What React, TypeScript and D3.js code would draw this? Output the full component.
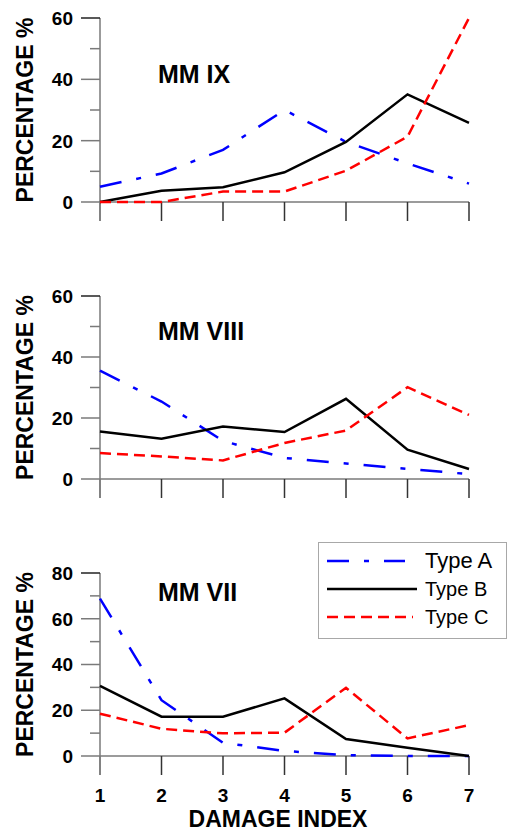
import React from 'react';
import * as d3 from 'd3';

const damageIndex = [1, 2, 3, 4, 5, 6, 7];

// MM IX
const mm9TypeA = [5, 9.3, 17, 30, 19.6, 12.6, 6];
const mm9TypeB = [0, 3.7, 4.8, 9.7, 19.6, 35.1, 25.8];
const mm9TypeC = [0, 0, 3.4, 3.4, 10.2, 21.3, 60];

// MM VIII
const mm8TypeA = [35.5, 25.4, 12.5, 6.9, 5.1, 3.3, 1.6];
const mm8TypeB = [15.6, 13.2, 17.2, 15.4, 26.3, 9.6, 3.3];
const mm8TypeC = [8.5, 7.4, 6.1, 11.8, 15.9, 30.1, 21];

// MM VII
const mm7TypeA = [68.8, 24.4, 5.8, 2.2, 0.4, 0, 0];
const mm7TypeB = [30.7, 17.2, 17.2, 25.2, 7.4, 3.6, 0];
const mm7TypeC = [18.5, 11.9, 9.9, 10.2, 29.8, 7.7, 13.5];

const ticks60 = [0, 20, 40, 60];
const minor60 = [10, 30, 50];
const ticks80 = [0, 20, 40, 60, 80];
const minor80 = [10, 30, 50, 70];

const seriesNames = ['Type A', 'Type B', 'Type C'];

const FONT = '"Liberation Sans", Arial, sans-serif';
const AXIS = '#7a7a7a';
const styles = [
  { stroke: '#0000ff', dash: '22,15,5,15' },
  { stroke: '#000000', dash: null },
  { stroke: '#ff0000', dash: '11,6' },
];

const xScale = d3.scaleLinear().domain([1, 7]).range([100, 469]);

function Panel({ title, series, yMax, yTop, yBottom, majors, minors, showXLabels }) {
  const y = d3.scaleLinear().domain([0, yMax]).range([yBottom, yTop]);
  const lineGen = d3.line<number>().x((_, i) => xScale(damageIndex[i])).y((d) => y(d));
  const midY = (yTop + yBottom) / 2;
  return (
    <g>
      {/* y axis */}
      <line x1={100} x2={100} y1={yTop} y2={yBottom + 19} stroke={AXIS} strokeWidth={1.5} />
      {majors.map((t) => (
        <g key={'M' + t}>
          <line x1={81} x2={100} y1={y(t)} y2={y(t)} stroke={t === yMax ? '#222' : AXIS} strokeWidth={1.5} />
          <text x={73} y={y(t)} dy="0.36em" textAnchor="end" fontFamily={FONT} fontWeight="bold" fontSize={19}>
            {t}
          </text>
        </g>
      ))}
      {minors.map((t) => (
        <line key={'m' + t} x1={90} x2={100} y1={y(t)} y2={y(t)} stroke={AXIS} strokeWidth={1.5} />
      ))}
      {/* x axis */}
      <line x1={100} x2={469} y1={yBottom} y2={yBottom} stroke={AXIS} strokeWidth={1.5} />
      {damageIndex.map((d) => (
        <g key={'x' + d}>
          <line x1={xScale(d)} x2={xScale(d)} y1={yBottom} y2={yBottom + 19} stroke={d === 1 ? AXIS : '#333'} strokeWidth={1.5} />
          {showXLabels && (
            <text x={xScale(d)} y={802} textAnchor="middle" fontFamily={FONT} fontWeight="bold" fontSize={19}>
              {d}
            </text>
          )}
        </g>
      ))}
      <text
        transform={`translate(33,${midY}) rotate(-90)`}
        textAnchor="middle"
        fontFamily={FONT}
        fontWeight="bold"
        fontSize={23}
      >
        PERCENTAGE %
      </text>
      <text x={158} y={title.y} fontFamily={FONT} fontWeight="bold" fontSize={25}>
        {title.text}
      </text>
      {series.map((s, i) => (
        <path
          key={i}
          d={lineGen(s) || ''}
          fill="none"
          stroke={styles[i].stroke}
          strokeWidth={2.5}
          strokeDasharray={styles[i].dash || undefined}
        />
      ))}
    </g>
  );
}

export default function App() {
  const legendY = [561, 589, 617];
  const legendLen = [78, 90, 86];
  const legendText = [568, 596, 624];
  const legendSize = [22, 20, 20];
  return (
    <svg width={510} height={831} style={{ position: 'absolute', left: 0, top: 0, background: '#fff' }}>
      <rect width={510} height={831} fill="#fff" />
      <Panel
        title={{ text: 'MM IX', y: 83 }}
        series={[mm9TypeA, mm9TypeB, mm9TypeC]}
        yMax={60}
        yTop={18}
        yBottom={202}
        majors={ticks60}
        minors={minor60}
        showXLabels={false}
      />
      <Panel
        title={{ text: 'MM VIII', y: 340 }}
        series={[mm8TypeA, mm8TypeB, mm8TypeC]}
        yMax={60}
        yTop={296}
        yBottom={479}
        majors={ticks60}
        minors={minor60}
        showXLabels={false}
      />
      <Panel
        title={{ text: 'MM VII', y: 601 }}
        series={[mm7TypeA, mm7TypeB, mm7TypeC]}
        yMax={80}
        yTop={573}
        yBottom={756}
        majors={ticks80}
        minors={minor80}
        showXLabels={true}
      />
      <text x={278} y={827} textAnchor="middle" fontFamily={FONT} fontWeight="bold" fontSize={23}>
        DAMAGE INDEX
      </text>
      {/* legend */}
      <rect x={318.5} y={542.5} width={188} height={96} fill="#fff" stroke="#a8a8a8" strokeWidth={1} />
      {seriesNames.map((name, i) => (
        <g key={name}>
          <line
            x1={327}
            x2={327 + legendLen[i]}
            y1={legendY[i]}
            y2={legendY[i]}
            stroke={styles[i].stroke}
            strokeWidth={2.5}
            strokeDasharray={styles[i].dash || undefined}
          />
          <text x={425} y={legendText[i]} fontFamily={FONT} fontSize={legendSize[i]}>
            {name}
          </text>
        </g>
      ))}
    </svg>
  );
}
